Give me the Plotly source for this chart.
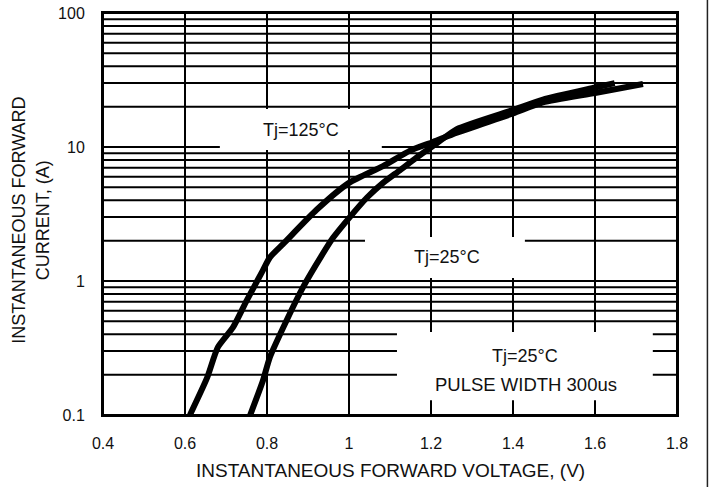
import math
import plotly.graph_objects as go

# ---- data ----
v_125 = [0.612, 0.654, 0.68, 0.717, 0.751, 0.79, 0.807, 0.84, 0.921, 1.0, 1.083,
         1.149, 1.205, 1.263, 1.4, 1.473, 1.6, 1.717]
i_125 = [0.1, 0.19, 0.32, 0.45, 0.72, 1.2, 1.5, 1.9, 3.4, 5.4, 7.2,
         9.4, 10.9, 12.8, 17.8, 21.5, 25.3, 29.5]

v_25 = [0.759, 0.79, 0.807, 0.848, 0.888, 0.934, 0.961, 1.002, 1.044, 1.083, 1.124,
        1.166, 1.215, 1.263, 1.4, 1.473, 1.6, 1.648]
i_25 = [0.1, 0.18, 0.27, 0.51, 0.9, 1.56, 2.1, 3.0, 4.2, 5.4, 6.7,
        8.4, 10.7, 13.6, 18.9, 22.6, 27.8, 30]

x_ticks = [0.4, 0.6, 0.8, 1.0, 1.2, 1.4, 1.6, 1.8]
x_ticktext = ["0.4", "0.6", "0.8", "1", "1.2", "1.4", "1.6", "1.8"]
y_ticks = [0.1, 1, 10, 100]
y_ticktext = ["0.1", "1", "10", "100"]

X_RANGE = [0.4, 1.8]
Y_RANGE_LOG = [-1, 2]

# horizontal grid values on log axis: 1..9 per decade, plus 100
y_grid = []
for d in y_ticks[:-1]:
    for k in range(1, 10):
        y_grid.append(round(d * k, 6))
y_grid.append(100)


def ypaper(v):
    return (math.log10(v) - Y_RANGE_LOG[0]) / (Y_RANGE_LOG[1] - Y_RANGE_LOG[0])


FONT = "Liberation Sans, Arial, sans-serif"
TXT = "#111"
GRID = dict(color="black", width=2)

fig = go.Figure()
for vx, iy in [(v_125, i_125), (v_25, i_25)]:
    fig.add_trace(go.Scatter(x=vx, y=iy, mode="lines",
                             line=dict(color="black", width=6, shape="spline", smoothing=0.6),
                             showlegend=False, hoverinfo="skip"))

shapes = []
# grid lines (drawn as shapes so that the white label boxes can break them)
for xv in x_ticks:
    shapes.append(dict(type="line", xref="x", yref="paper", x0=xv, x1=xv, y0=0, y1=1,
                       line=GRID, layer="below"))
for yv in y_grid:
    yp = ypaper(yv)
    shapes.append(dict(type="line", xref="paper", yref="paper", x0=0, x1=1, y0=yp, y1=yp,
                       line=GRID, layer="below"))

# white label boxes that break the grid
boxes = [
    (0.685, 1.080, 0.659, 0.761),
    (1.039, 1.429, 0.341, 0.443),
    (1.117, 1.741, 0.037, 0.2065),
]
for x0, x1, y0, y1 in boxes:
    shapes.append(dict(type="rect", xref="x", yref="paper", x0=x0, x1=x1, y0=y0, y1=y1,
                       fillcolor="white", line=dict(width=0), layer="below"))

# page frame line at right edge
shapes.append(dict(type="line", xref="paper", yref="paper", x0=1.053, x1=1.053,
                   y0=-0.3, y1=1.2, line=dict(color="#222", width=1.5)))


def note(text, x, y, size, xref="x", angle=0):
    return dict(text=text, x=x, y=y, xref=xref, yref="paper", showarrow=False,
                xanchor="center", yanchor="middle", textangle=angle,
                font=dict(size=size, family=FONT, color=TXT))


annotations = [
    note("Tj=125°C", 0.883, 0.709, 18),
    note("Tj=25°C", 1.239, 0.393, 18),
    note("Tj=25°C", 1.429, 0.147, 18),
    note("PULSE WIDTH 300us", 1.432, 0.077, 18.5),
    note("INSTANTANEOUS FORWARD VOLTAGE, (V)", 0.5, -0.137, 19, xref="paper"),
    note("INSTANTANEOUS FORWARD<br>CURRENT, (A)", -0.1254, 0.483, 18, xref="paper", angle=-90),
]

fig.update_layout(
    template="none",
    width=709, height=487,
    margin=dict(l=103, r=32, t=13, b=72, pad=0),
    paper_bgcolor="white", plot_bgcolor="white",
    font=dict(family=FONT, size=16, color=TXT),
    hovermode=False,
    shapes=shapes, annotations=annotations,
    xaxis=dict(range=X_RANGE, tickvals=x_ticks, ticktext=x_ticktext,
               showgrid=False,
               showline=True, linecolor="black", linewidth=2, mirror=True,
               ticks="", ticklabelstandoff=13, zeroline=False, automargin=False,
               ticklabeloverflow="allow",
               tickfont=dict(size=16, family=FONT, color=TXT)),
    yaxis=dict(type="log", range=Y_RANGE_LOG, tickvals=y_ticks, ticktext=y_ticktext,
               showgrid=False,
               showline=True, linecolor="black", linewidth=2, mirror=True,
               ticks="", ticklabelstandoff=13, zeroline=False, automargin=False,
               ticklabeloverflow="allow",
               tickfont=dict(size=16, family=FONT, color=TXT)),
)

fig.write_html("out.html",
               config={"displayModeBar": False, "staticPlot": True},
               post_script="document.body.style.margin='0px';document.body.style.overflow='hidden';")
